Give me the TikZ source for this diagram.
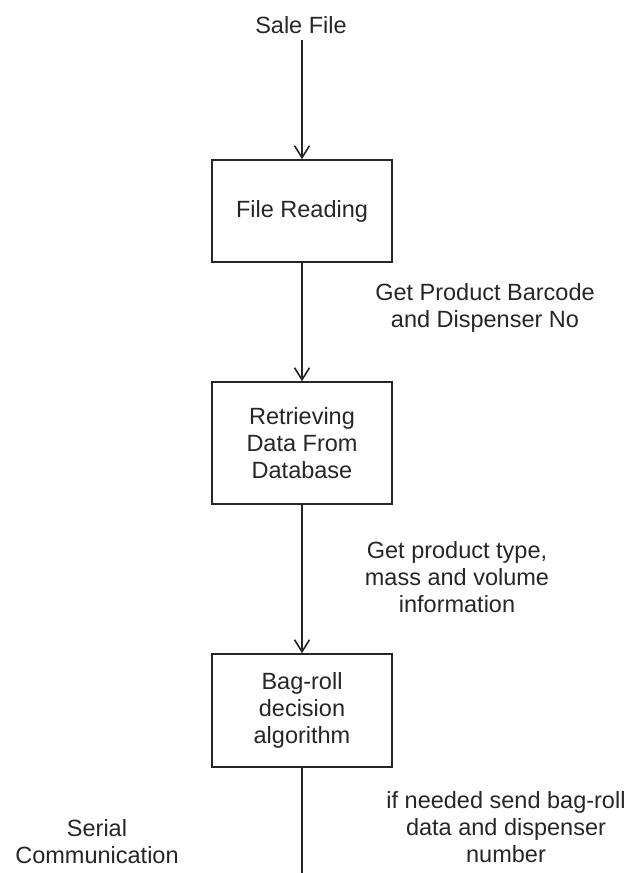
\documentclass[tikz,border=0pt]{standalone}
\usepackage{fontspec}
\setmainfont{Liberation Sans}
\usetikzlibrary{arrows.meta}
\begin{document}
\begin{tikzpicture}[x=1pt,y=-1pt,
  every node/.style={font=\fontsize{23.5}{27}\selectfont, text=black!85, align=center, inner sep=0pt},
  procbox/.style={draw=black!85, line width=1.6pt, minimum width=180pt},
  lbl/.style={},
  flow/.style={draw=black!85, line width=1.6pt, -{Straight Barb[length=12pt,width=15pt,line width=1.6pt]}},
  plain/.style={draw=black!85, line width=1.6pt}]
\useasboundingbox (0,0) rectangle (630,873);
\node (sale) at (301,25) {Sale File};
\node[procbox, minimum height=102pt] (read) at (302,211) {File Reading};
\node[procbox, minimum height=122pt] (db) at (302,443) {Retrieving\\Data From\\Database};
\node[procbox, minimum height=113pt] (alg) at (302,710.5) {Bag-roll\\decision\\algorithm};
\coordinate (bottom) at (302,873);
\coordinate (salebot) at (302,40);
\node[lbl] (l1) at (485,308) {Get Product Barcode\\and Dispenser No};
\node[lbl] (l2) at (457,577) {Get product type,\\mass and volume\\information};
\node[lbl] (l3) at (506,827) {if needed send bag-roll\\data and dispenser\\number};
\node[lbl] (l4) at (97,842) {Serial\\Communication};
\draw[flow] (salebot) -- (read.north);
\draw[flow] (read.south) -- (db.north);
\draw[flow] (db.south) -- (alg.north);
\draw[plain] (alg.south) -- (bottom);
\end{tikzpicture}
\end{document}
